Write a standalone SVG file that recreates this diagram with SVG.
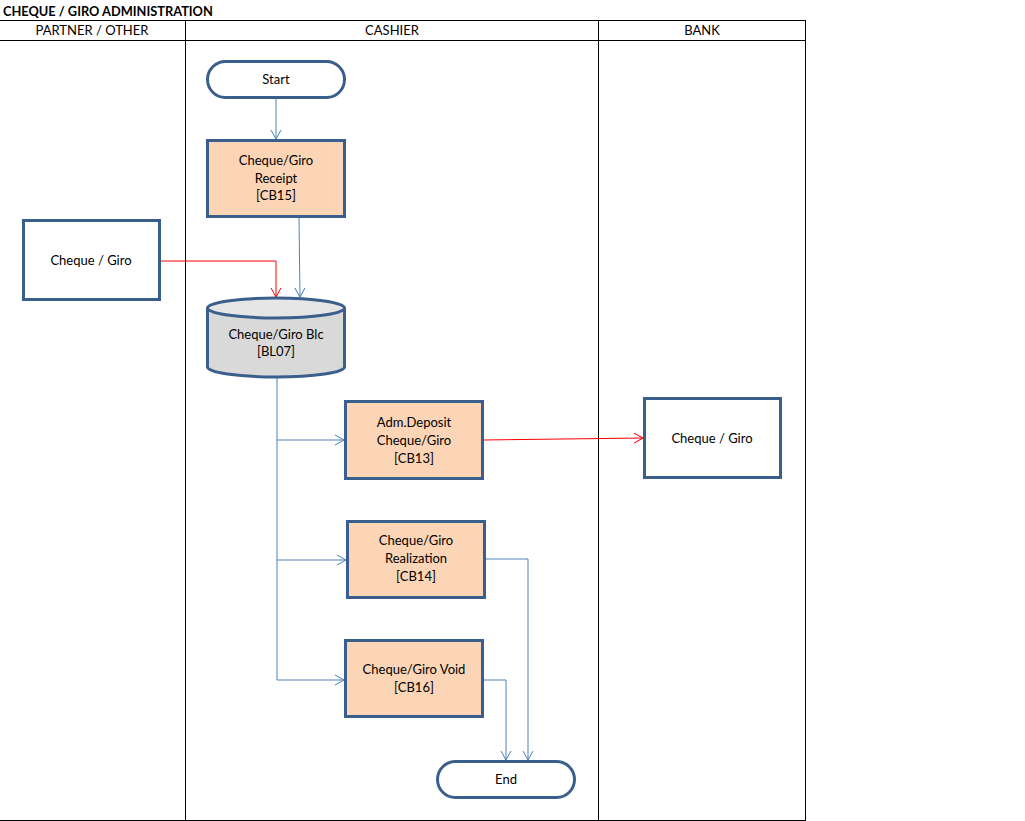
<svg xmlns="http://www.w3.org/2000/svg" width="1025" height="821" viewBox="0 0 1025 821">
<style>
text{font-family:"Lato","Liberation Sans",sans-serif;font-size:13px;fill:#000;text-anchor:middle}
.title{font-weight:bold;text-anchor:start;font-size:12.8px}
.lane{stroke:#000;stroke-width:1;fill:none}
.node{stroke:#3b5f8c;stroke-width:3}
.proc{fill:#fbd5b5}
.plain{fill:#fff}
.c{fill:none;stroke:#4f81bd;stroke-width:1}
.r{fill:none;stroke:#ff0000;stroke-width:1}
</style>
<defs>
<marker id="ab" markerWidth="12" markerHeight="12" refX="10" refY="6" orient="auto" markerUnits="userSpaceOnUse"><path d="M1,1 L10,6 L1,11" fill="none" stroke="#4f81bd" stroke-width="1"/></marker>
<marker id="ar" markerWidth="12" markerHeight="12" refX="10" refY="6" orient="auto" markerUnits="userSpaceOnUse"><path d="M1,1 L10,6 L1,11" fill="none" stroke="#ff0000" stroke-width="1"/></marker>
</defs>
<rect width="1025" height="821" fill="#fff"/>
<text class="title" x="3" y="16">CHEQUE / GIRO ADMINISTRATION</text>
<g id="lanes">
<path class="lane" d="M0,20.5 H805.5 M0,40.5 H805.5 M0,820.5 H805.5 M185.5,20 V821 M598.5,20 V821 M805.5,20 V821"/>
<text x="92" y="35">PARTNER / OTHER</text>
<text x="392" y="35">CASHIER</text>
<text x="702" y="35">BANK</text>
</g>
<g id="connectors">
<path class="c" d="M276,97 V139" marker-end="url(#ab)"/>
<path class="c" d="M299,216 L300,297" marker-end="url(#ab)"/>
<path class="r" d="M159,261 H276 V297" marker-end="url(#ar)"/>
<path class="c" d="M277,377 V680"/>
<path class="c" d="M277,440 H344" marker-end="url(#ab)"/>
<path class="c" d="M277,560 H346" marker-end="url(#ab)"/>
<path class="c" d="M277,680 H344" marker-end="url(#ab)"/>
<path class="r" d="M483,440 L643,438" marker-end="url(#ar)"/>
<path class="c" d="M484,559 H528 V760" marker-end="url(#ab)"/>
<path class="c" d="M482,680 H506 V760" marker-end="url(#ab)"/>
</g>
<g id="start">
<rect class="node plain" x="207.5" y="61.5" width="137" height="36" rx="18"/>
<text x="276" y="84">Start</text>
</g>
<g id="cb15">
<rect class="node proc" x="207.5" y="140.5" width="137" height="76"/>
<text x="276" y="165">Cheque/Giro</text>
<text x="276" y="183">Receipt</text>
<text x="276" y="200">[CB15]</text>
</g>
<g id="partner-cheque">
<rect class="node plain" x="23.5" y="220.5" width="136" height="79"/>
<text x="91" y="265">Cheque / Giro</text>
</g>
<g id="bl07">
<path class="node" fill="#d9d9d9" d="M207.5,308 V367 A68.5,10 0 0 0 344.5,367 V308"/>
<ellipse class="node" fill="#e6e6e6" cx="276" cy="308" rx="68.5" ry="10"/>
<text x="276" y="339">Cheque/Giro Blc</text>
<text x="276" y="356">[BL07]</text>
</g>
<g id="cb13">
<rect class="node proc" x="345.5" y="401.5" width="137" height="77"/>
<text x="414" y="427">Adm.Deposit</text>
<text x="414" y="445">Cheque/Giro</text>
<text x="414" y="463">[CB13]</text>
</g>
<g id="bank-cheque">
<rect class="node plain" x="644.5" y="398.5" width="136" height="79"/>
<text x="712" y="443">Cheque / Giro</text>
</g>
<g id="cb14">
<rect class="node proc" x="347.5" y="521.5" width="137" height="76"/>
<text x="416" y="545">Cheque/Giro</text>
<text x="416" y="563">Realization</text>
<text x="416" y="581">[CB14]</text>
</g>
<g id="cb16">
<rect class="node proc" x="345.5" y="640.5" width="137" height="76"/>
<text x="414" y="674">Cheque/Giro Void</text>
<text x="414" y="692">[CB16]</text>
</g>
<g id="end">
<rect class="node plain" x="437.5" y="761.5" width="137" height="36" rx="18"/>
<text x="506" y="784">End</text>
</g>
</svg>
